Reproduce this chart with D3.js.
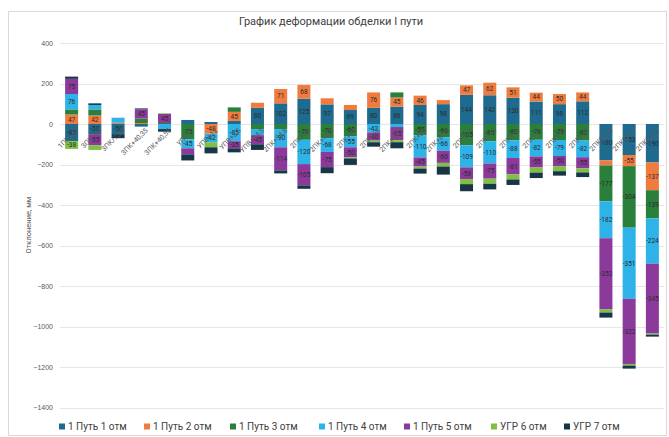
<!DOCTYPE html>
<html><head><meta charset="utf-8">
<script src="https://cdn.jsdelivr.net/npm/d3@7"></script>
<style>body{margin:0;background:#fff;}svg{display:block;font-family:Roboto,"Open Sans",sans-serif;}</style>
</head><body><svg id="c" width="669" height="437"></svg>
<script>
const categories = ["1ПК+40","3ПК+40","3ПК/73,5","3ПК+40,35","3ПК+40,55","УПВ+1","УПВ+12","УПВ+2,5","УПВ+34,5","2ПК+34,8","2ПК+46","2ПК+46,3","2ПК+58","2ПК+68","2ПК+69,5","2ПК+80","2ПК+87,5","2ПК3+4","2ПК3+5","2ПК3+6","2ПК1+1","2ПК3+8","2ПК3+9","2ПК3+10","2ПК3+11","2ПК3+12"];
const seriesNames = ["1 Путь 1 отм","1 Путь 2 отм","1 Путь 3 отм","1 Путь 4 отм","1 Путь 5 отм","УГР 6 отм","УГР 7 отм"];
const s1 = [-85,-50,-50,-13,0,20,10,15,80,102,125,97,69,80,86,94,98,144,142,130,111,98,112,-180,-153,-190];
const s2 = [47,42,6,5,0,0,-48,45,25,71,68,30,25,76,45,46,20,47,62,51,44,50,44,-25,-55,-137];
const s3 = [25,30,0,22,5,-75,0,22,-25,-25,-78,-70,-60,0,25,-55,-66,-105,-85,-80,-78,-79,-82,-177,-304,-139];
const s4 = [76,22,25,0,-25,-45,-42,-85,-30,-90,-120,-68,-55,-42,-15,-110,-66,-109,-110,-88,-82,-79,-82,-182,-351,-224];
const s5 = [75,-55,0,45,45,-30,0,-35,-45,-114,-105,-75,-50,-40,-65,-45,-60,-58,-75,-81,-55,-50,-55,-352,-322,-345];
const s6 = [-38,-23,0,0,3,0,-25,0,0,0,0,0,-5,-8,-10,-10,-18,-25,-25,-25,-25,-25,-20,-15,-8,-5];
const s7 = [11,8,-20,5,-13,-30,-30,-20,-28,-15,-17,-30,-32,-22,-30,-25,-40,-35,-28,-27,-27,-22,-23,-25,-15,-10];
const yTicks = [400,200,0,-200,-400,-600,-800,-1000,-1200,-1400];
const colors = ["#1f6b8f","#f07b3f","#2a7f3a","#2eb3e8","#8b3a9c","#7dc142","#173748"];

const allSeries = [s1,s2,s3,s4,s5,s6,s7];
const rows = categories.map((c,i)=>{const r={cat:c}; seriesNames.forEach((n,k)=>r[n]=allSeries[k][i]); return r;});

const svg = d3.select("#c");
svg.append("rect").attr("x",8.5).attr("y",11.5).attr("width",658).attr("height",424).attr("fill","#fff").attr("stroke","#d9d9d9");

const x = d3.scaleBand().domain(categories).range([60,664]).paddingInner(0.44).paddingOuter(0.22);
const y = d3.scaleLinear().domain([-1400,400]).range([407.5,43]);

svg.append("g").selectAll("line").data(yTicks).join("line")
  .attr("x1",60).attr("x2",664).attr("y1",d=>Math.round(y(d))+0.5).attr("y2",d=>Math.round(y(d))+0.5)
  .attr("stroke","#e6e6e6").attr("stroke-width",1);

const yAxis = d3.axisLeft(y).tickValues(yTicks).tickSize(0).tickPadding(0).tickFormat(d3.format("d"));
const ga = svg.append("g").attr("transform","translate(53,0)").call(yAxis);
ga.select(".domain").remove();
ga.selectAll("text").attr("fill","#595959").style("font-size","7px");

const stack = d3.stack().keys(seriesNames).offset(d3.stackOffsetDiverging);
const layers = stack(rows);
const g = svg.append("g");
layers.forEach((layer,k)=>{
  g.append("g").attr("fill",colors[k]).selectAll("rect").data(layer).join("rect")
    .attr("x",d=>x(d.data.cat)).attr("width",x.bandwidth())
    .attr("y",d=>y(Math.max(d[0],d[1]))).attr("height",d=>Math.abs(y(d[0])-y(d[1])));
});
layers.forEach((layer,k)=>{
  g.append("g").selectAll("text").data(layer.filter(d=>Math.abs(y(d[0])-y(d[1]))>=6.5)).join("text")
    .attr("x",d=>x(d.data.cat)+x.bandwidth()/2).attr("y",d=>(y(d[0])+y(d[1]))/2+2.3)
    .attr("text-anchor","middle").attr("fill","#2b2b2b").style("font-size","6.5px")
    .text(d=>d.data[seriesNames[k]]);
});

// category labels (drawn over the bars, as in the reference)
svg.append("g").selectAll("text").data(categories).join("text")
  .attr("transform",d=>`translate(${x(d)+x.bandwidth()/2+7},${y(0)+7}) rotate(-45)`)
  .attr("text-anchor","end").attr("fill","#595959").style("font-size","7px").text(d=>d);

svg.append("text").attr("x",331).attr("y",25).attr("text-anchor","middle").attr("fill","#404040")
  .style("font-size","11px").text("График деформации обделки I пути");
svg.append("text").attr("transform","translate(31,225) rotate(-90)").attr("text-anchor","middle")
  .attr("fill","#595959").style("font-size","7.5px").text("Отклонение, мм");

const legX = [62,147,233,322,407,494,567];
const lg = svg.append("g").selectAll("g").data(seriesNames).join("g")
  .attr("transform",(d,i)=>`translate(${legX[i]},427)`);
lg.append("rect").attr("x",-3).attr("y",-3.5).attr("width",6).attr("height",6).attr("fill",(d,i)=>colors[i]);
lg.append("text").attr("x",6).attr("y",3).attr("fill","#404040").style("font-size","10px").text(d=>d);
</script></body></html>
